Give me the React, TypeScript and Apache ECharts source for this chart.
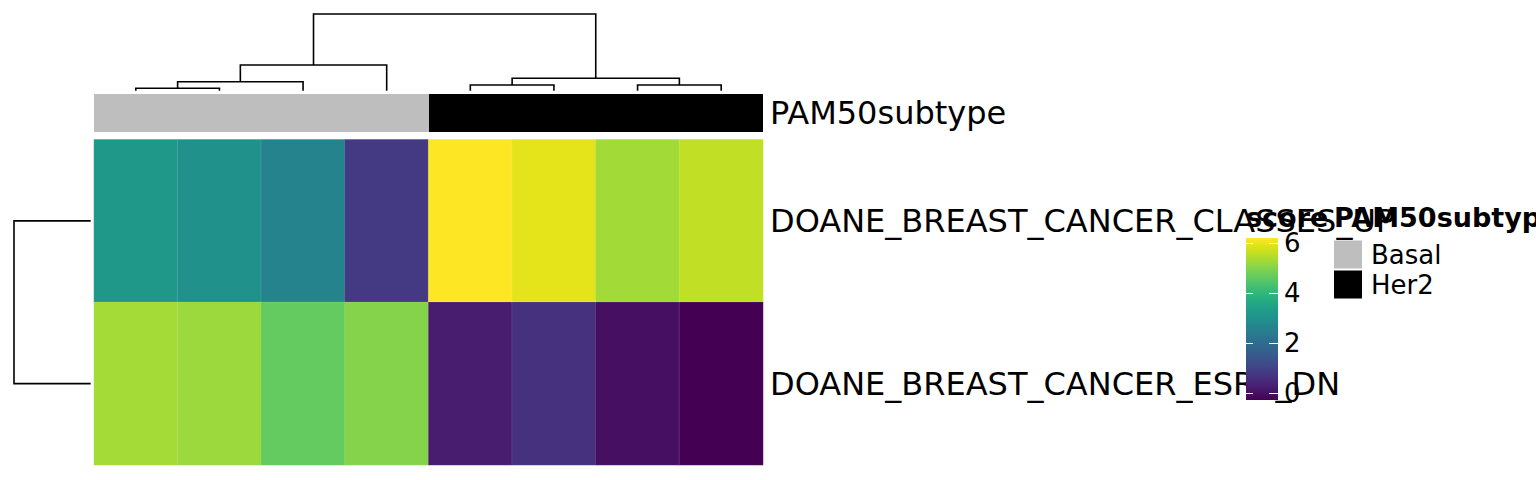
import React, { useEffect, useRef } from "react";
import * as echarts from "echarts";

// ---------- data ----------
const sampleIds = ["S1", "S2", "S3", "S4", "S5", "S6", "S7", "S8"];
const sampleSubtypes = ["Basal", "Basal", "Basal", "Basal", "Her2", "Her2", "Her2", "Her2"];
const subtypeNames = ["Basal", "Her2"];
const subtypeColors = ["#BEBEBE", "#000000"];
const annotationName = "PAM50subtype";
const geneSets = ["DOANE_BREAST_CANCER_CLASSES_UP", "DOANE_BREAST_CANCER_ESR1_DN"];
const classesUpScores = [3.16, 2.97, 2.61, 0.82, 6.21, 5.95, 5.3, 5.59];
const esr1DnScores = [5.33, 5.24, 4.65, 5.01, 0.24, 0.63, -0.02, -0.28];
const scoreMin = -0.28;
const scoreMax = 6.21;
const colorbarTicks = [0, 2, 4, 6];
const scoreLegendTitle = "score";

// hclust-style merges: negative = leaf (1-based), positive = earlier merge (1-based)
const colMergePairs = [[-1, -2], [1, -3], [2, -4], [-5, -6], [-7, -8], [4, 5], [3, 6]];
const colMergeHeights = [0.24, 0.9, 2.57, 0.57, 0.57, 1.24, 7.67];
const rowMergePairs = [[-1, -2]];
const rowMergeHeights = [3.0];

const viridis = [
  "#440154", "#471365", "#482475", "#463480", "#414487", "#3B528B", "#355F8D",
  "#2F6C8E", "#2A788E", "#25848E", "#21918C", "#1E9C89", "#22A884", "#2FB47C",
  "#44BF70", "#5EC962", "#7AD151", "#9BD93C", "#BDDF26", "#DFE318", "#FDE725",
];

const FONT = "'DejaVu Sans', sans-serif";

// build dendrogram segments [leftPos, leftH, rightPos, rightH, mergeH]
function buildSegments(pairs: number[][], heights: number[]) {
  const pos: number[] = [];
  const hts: number[] = [];
  const segs: number[][] = [];
  pairs.forEach((p, i) => {
    const info = p.map((n) => (n < 0 ? [-n - 1, 0] : [pos[n - 1], hts[n - 1]]));
    segs.push([info[0][0], info[0][1], info[1][0], info[1][1], heights[i]]);
    pos.push((info[0][0] + info[1][0]) / 2);
    hts.push(heights[i]);
  });
  return segs;
}

export default function App() {
  const ref = useRef<HTMLDivElement>(null);

  useEffect(() => {
    if (!ref.current) return;
    const chart = echarts.init(ref.current, null, { renderer: "svg" });

    const heatData: number[][] = [];
    sampleIds.forEach((_, i) => {
      heatData.push([i, 0, classesUpScores[i]]);
      heatData.push([i, 1, esr1DnScores[i]]);
    });

    const colSegs = buildSegments(colMergePairs, colMergeHeights);
    const rowSegs = buildSegments(rowMergePairs, rowMergeHeights);

    const gradient = new echarts.graphic.LinearGradient(
      0, 0, 0, 1,
      viridis.slice().reverse().map((c, i) => ({ offset: i / (viridis.length - 1), color: c }))
    );

    const hideAxis = {
      axisLine: { show: false },
      axisTick: { show: false },
      axisLabel: { show: false },
      splitLine: { show: false },
    };

    const annotationSeries = subtypeNames.map((name, k) => ({
      name,
      type: "custom",
      xAxisIndex: 1,
      yAxisIndex: 1,
      itemStyle: { color: subtypeColors[k] },
      data: sampleIds
        .map((_, i) => i)
        .filter((i) => sampleSubtypes[i] === name)
        .map((i) => [i, 0]),
      renderItem: (params: any, api: any) => {
        const c = api.coord([api.value(0), api.value(1)]);
        const s = api.size([1, 1]);
        const x0 = Math.round(c[0] - s[0] / 2);
        const x1 = Math.round(c[0] + s[0] / 2);
        const y0 = Math.round(c[1] - s[1] / 2);
        const y1 = Math.round(c[1] + s[1] / 2);
        return {
          type: "rect",
          shape: { x: x0, y: y0, width: x1 - x0 + (api.value(0) < sampleIds.length - 1 ? 1 : 0), height: y1 - y0 },
          style: { fill: api.visual("color") },
        };
      },
    }));

    const option: any = {
      animation: false,
      backgroundColor: "#ffffff",
      title: [
        {
          text: scoreLegendTitle,
          left: 1246,
          top: 203.5,
          padding: 0,
          textStyle: { fontSize: 27, fontWeight: "bold", fontFamily: FONT, color: "#000" },
        },
        {
          text: annotationName,
          left: 1334,
          top: 203.5,
          padding: 0,
          textStyle: { fontSize: 27, fontWeight: "bold", fontFamily: FONT, color: "#000" },
        },
      ],
      legend: {
        data: subtypeNames,
        orient: "vertical",
        left: 1334,
        top: 240.5,
        padding: 0,
        itemWidth: 28,
        itemHeight: 28,
        itemGap: 2,
        icon: "rect",
        selectedMode: false,
        textStyle: { fontSize: 26, fontFamily: FONT, color: "#000", padding: [0, 0, 0, 4] },
      },
      visualMap: {
        type: "continuous",
        show: false,
        min: scoreMin,
        max: scoreMax,
        seriesIndex: 0,
        dimension: 2,
        inRange: { color: viridis },
      },
      grid: [
        { left: 94, top: 139.5, width: 669, height: 325.5, outerBoundsMode: "none" },
        { left: 94, top: 94, width: 669, height: 38, outerBoundsMode: "none" },
        { left: 94, top: 14, width: 669, height: 76.7, outerBoundsMode: "none" },
        { left: 14, top: 139.5, width: 76.7, height: 325.5, outerBoundsMode: "none" },
        { left: 1246, top: 238, width: 32, height: 162, outerBoundsMode: "none" },
      ],
      xAxis: [
        { type: "category", gridIndex: 0, data: sampleIds, ...hideAxis },
        { type: "category", gridIndex: 1, data: sampleIds, ...hideAxis },
        { type: "value", gridIndex: 2, min: -0.5, max: sampleIds.length - 0.5, ...hideAxis },
        { type: "value", gridIndex: 3, min: 0, max: rowMergeHeights[0], inverse: true, ...hideAxis },
        { type: "value", gridIndex: 4, min: 0, max: 1, ...hideAxis },
      ],
      yAxis: [
        {
          type: "category",
          gridIndex: 0,
          data: geneSets,
          inverse: true,
          position: "right",
          axisLine: { show: false },
          axisTick: { show: false },
          splitLine: { show: false },
          axisLabel: { fontSize: 32, fontFamily: FONT, color: "#000", margin: 7 },
        },
        {
          type: "category",
          gridIndex: 1,
          data: [annotationName],
          position: "right",
          axisLine: { show: false },
          axisTick: { show: false },
          splitLine: { show: false },
          axisLabel: { fontSize: 32, fontFamily: FONT, color: "#000", margin: 7 },
        },
        { type: "value", gridIndex: 2, min: 0, max: colMergeHeights[colMergeHeights.length - 1], ...hideAxis },
        { type: "value", gridIndex: 3, min: -0.5, max: geneSets.length - 0.5, inverse: true, ...hideAxis },
        {
          type: "value",
          gridIndex: 4,
          min: scoreMin,
          max: scoreMax,
          position: "left",
          z: 5,
          axisLine: { show: false },
          splitLine: { show: false },
          axisLabel: { show: false },
          axisTick: {
            show: true,
            inside: true,
            length: 7,
            customValues: colorbarTicks,
            lineStyle: { color: "#ffffff", width: 1 },
          },
        },
        {
          type: "value",
          gridIndex: 4,
          min: scoreMin,
          max: scoreMax,
          position: "right",
          z: 5,
          axisLine: { show: false },
          splitLine: { show: false },
          axisLabel: {
            show: true,
            customValues: colorbarTicks,
            fontSize: 26,
            fontFamily: FONT,
            color: "#000",
            margin: 6,
          },
          axisTick: {
            show: true,
            inside: true,
            length: 9,
            customValues: colorbarTicks,
            lineStyle: { color: "#ffffff", width: 1 },
          },
        },
      ],
      series: [
        {
          type: "heatmap",
          xAxisIndex: 0,
          yAxisIndex: 0,
          data: heatData,
          itemStyle: { borderColor: "rgba(255,255,255,0.18)", borderWidth: 0.6 },
          emphasis: { disabled: true },
        },
        ...annotationSeries,
        {
          type: "custom",
          xAxisIndex: 2,
          yAxisIndex: 2,
          data: colSegs,
          encode: { x: [0, 2], y: [1, 3, 4] },
          renderItem: (params: any, api: any) => {
            const a = api.coord([api.value(0), api.value(1)]);
            const b = api.coord([api.value(0), api.value(4)]);
            const c = api.coord([api.value(2), api.value(4)]);
            const d = api.coord([api.value(2), api.value(3)]);
            return {
              type: "polyline",
              shape: { points: [a, b, c, d] },
              style: { stroke: "#000", lineWidth: 1.6, fill: "none" },
            };
          },
        },
        {
          type: "custom",
          xAxisIndex: 3,
          yAxisIndex: 3,
          data: rowSegs,
          encode: { x: [1, 3, 4], y: [0, 2] },
          renderItem: (params: any, api: any) => {
            const a = api.coord([api.value(1), api.value(0)]);
            const b = api.coord([api.value(4), api.value(0)]);
            const c = api.coord([api.value(4), api.value(2)]);
            const d = api.coord([api.value(3), api.value(2)]);
            return {
              type: "polyline",
              shape: { points: [a, b, c, d] },
              style: { stroke: "#000", lineWidth: 1.6, fill: "none" },
            };
          },
        },
        {
          type: "custom",
          xAxisIndex: 4,
          yAxisIndex: 5,
          data: [[0, scoreMin]],
          renderItem: (params: any, api: any) => {
            const tl = api.coord([0, scoreMax]);
            const br = api.coord([1, scoreMin]);
            return {
              type: "rect",
              shape: { x: tl[0], y: tl[1], width: br[0] - tl[0], height: br[1] - tl[1] },
              style: { fill: gradient },
            };
          },
        },
      ],
    };

    chart.setOption(option);
    return () => chart.dispose();
  }, []);

  return (
    <div
      ref={ref}
      style={{ position: "fixed", left: 0, top: 0, width: 1536, height: 480, background: "#fff" }}
    />
  );
}
